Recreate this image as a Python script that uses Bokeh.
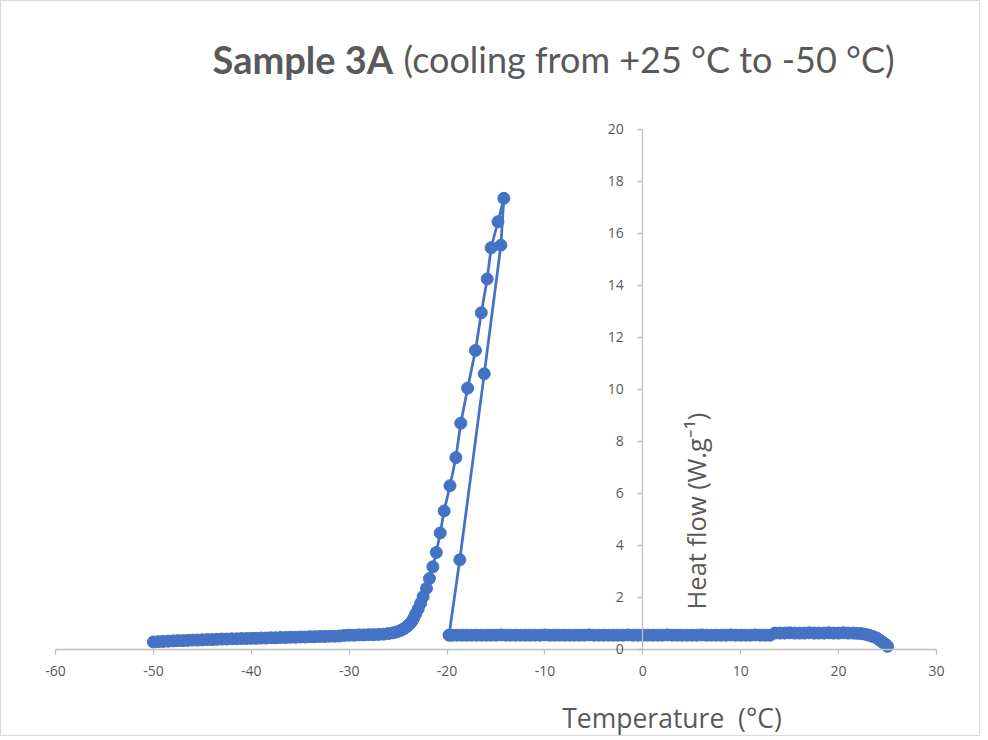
import math
from bokeh.plotting import figure
from bokeh.models import Label, FixedTicker, ColumnDataSource, PrintfTickFormatter
from bokeh.embed import file_html
from bokeh.resources import INLINE

# ---- data, in recording order: cooling 25 -> -50 °C ----
t_start = [25.0, 24.8, 24.5, 24.2, 23.9, 23.5, 23.1, 22.7, 22.3, 21.9,
           21.5, 21.0, 20.5, 20.0, 19.5, 19.0, 18.5, 18.0, 17.5, 17.0,
           16.5, 16.0, 15.5, 15.0, 14.5, 14.0, 13.5]
q_start = [0.12, 0.20, 0.28, 0.36, 0.44, 0.50, 0.55, 0.59, 0.61, 0.62,
           0.63, 0.63, 0.64, 0.63, 0.63, 0.64, 0.63, 0.63, 0.63, 0.64,
           0.63, 0.63, 0.63, 0.64, 0.63, 0.63, 0.63]

t_base = [13.0, 12.5, 12.0, 11.5, 11.0, 10.5, 10.0, 9.5, 9.0, 8.5,
          8.0, 7.5, 7.0, 6.5, 6.0, 5.5, 5.0, 4.5, 4.0, 3.5,
          3.0, 2.5, 2.0, 1.5, 1.0, 0.5, 0.0, -0.5, -1.0, -1.5,
          -2.0, -2.5, -3.0, -3.5, -4.0, -4.5, -5.0, -5.5, -6.0, -6.5,
          -7.0, -7.5, -8.0, -8.5, -9.0, -9.5, -10.0, -10.5, -11.0, -11.5,
          -12.0, -12.5, -13.0, -13.5, -14.0, -14.5, -15.0, -15.5, -16.0, -16.5,
          -17.0, -17.5, -18.0, -18.5, -19.0, -19.5, -19.8]
q_base = [0.55, 0.55, 0.55, 0.56, 0.55, 0.55, 0.55, 0.55, 0.56, 0.55,
          0.55, 0.55, 0.55, 0.55, 0.56, 0.55, 0.55, 0.55, 0.55, 0.55,
          0.55, 0.56, 0.55, 0.55, 0.55, 0.55, 0.55, 0.55, 0.55, 0.56,
          0.55, 0.55, 0.55, 0.55, 0.55, 0.55, 0.55, 0.56, 0.55, 0.55,
          0.55, 0.55, 0.55, 0.55, 0.55, 0.55, 0.56, 0.55, 0.55, 0.55,
          0.55, 0.55, 0.55, 0.55, 0.55, 0.56, 0.55, 0.55, 0.55, 0.55,
          0.55, 0.55, 0.55, 0.55, 0.55, 0.55, 0.55]

t_peak = [-18.7, -16.2, -14.5, -14.2, -14.8, -15.5, -15.9, -16.5, -17.1, -17.9,
          -18.6, -19.1, -19.7, -20.3, -20.7, -21.1, -21.45, -21.8, -22.1, -22.45,
          -22.7, -22.95, -23.2, -23.4, -23.6, -23.85, -24.1, -24.4, -24.75, -25.1,
          -25.5, -26.0, -26.5, -27.0]
q_peak = [3.45, 10.6, 15.55, 17.35, 16.45, 15.45, 14.25, 12.95, 11.5, 10.05,
          8.7, 7.38, 6.3, 5.33, 4.48, 3.73, 3.18, 2.73, 2.35, 2.03,
          1.78, 1.56, 1.37, 1.21, 1.08, 0.97, 0.88, 0.80, 0.73, 0.68,
          0.64, 0.61, 0.59, 0.58]

t_tail = [-27.5, -28.0, -28.5, -29.0, -29.5, -30.0, -30.5, -31.0, -31.5, -32.0,
          -32.5, -33.0, -33.5, -34.0, -34.5, -35.0, -35.5, -36.0, -36.5, -37.0,
          -37.5, -38.0, -38.5, -39.0, -39.5, -40.0, -40.5, -41.0, -41.5, -42.0,
          -42.5, -43.0, -43.5, -44.0, -44.5, -45.0, -45.5, -46.0, -46.5, -47.0,
          -47.5, -48.0, -48.5, -49.0, -49.5, -50.0]
q_tail = [0.57, 0.57, 0.56, 0.56, 0.55, 0.55, 0.54, 0.52, 0.51, 0.51,
          0.50, 0.50, 0.49, 0.49, 0.48, 0.48, 0.47, 0.47, 0.46, 0.46,
          0.45, 0.45, 0.44, 0.44, 0.43, 0.43, 0.42, 0.42, 0.41, 0.41,
          0.40, 0.40, 0.39, 0.38, 0.38, 0.37, 0.36, 0.36, 0.35, 0.34,
          0.34, 0.33, 0.32, 0.31, 0.30, 0.29]

x_ticks = [-60, -50, -40, -30, -20, -10, 0, 10, 20, 30]
y_ticks = [0, 2, 4, 6, 8, 10, 12, 14, 16, 18, 20]

title_bold = "Sample 3A"
title_rest = "(cooling from +25 °C to -50 °C)"
x_title = "Temperature\u00a0 (°C)"
y_title = "Heat flow (W.g\u207b\u00b9)"

temperature = t_start + t_base + t_peak + t_tail
heat_flow = q_start + q_base + q_peak + q_tail
src = ColumnDataSource(data=dict(t=temperature, q=heat_flow))

BLUE = "#4472C4"
GREY_TXT = "#595959"
AXIS = "#BFBFBF"

# The plotting frame covers the whole canvas; axes sit at fixed data positions
# (x=0 for the value axis, y=0 for the temperature axis), like the Excel chart.
p = figure(width=980, height=736, x_range=(-65.52, 34.60), y_range=(-3.385, 24.92),
           output_backend="svg", toolbar_location=None,
           min_border_left=0, min_border_right=0,
           min_border_top=0, min_border_bottom=0)
p.styles = {"border": "1px solid #D9D9D9"}
p.xgrid.visible = False
p.ygrid.visible = False
p.outline_line_color = None
p.background_fill_color = "white"
p.border_fill_color = "white"

p.xaxis.ticker = FixedTicker(ticks=x_ticks)
p.yaxis.ticker = FixedTicker(ticks=y_ticks)
p.xaxis.formatter = PrintfTickFormatter(format="%d")
p.yaxis.formatter = PrintfTickFormatter(format="%d")
p.xaxis.fixed_location = 0
p.yaxis.fixed_location = 0
p.xaxis.bounds = (x_ticks[0], x_ticks[-1])
p.yaxis.bounds = (y_ticks[0], y_ticks[-1])
for ax in (p.xaxis[0], p.yaxis[0]):
    ax.axis_line_color = AXIS
    ax.axis_line_width = 1.3
    ax.major_tick_line_color = AXIS
    ax.major_tick_line_width = 1.3
    ax.major_tick_out = 5
    ax.major_tick_in = 0
    ax.minor_tick_line_color = None
    ax.major_label_text_color = GREY_TXT
    ax.major_label_text_font = "Open Sans"
    ax.major_label_text_font_size = "14px"
p.xaxis.major_label_standoff = 12
p.yaxis.major_label_standoff = 14

p.line("t", "q", source=src, line_color=BLUE, line_width=2.75)
p.scatter("t", "q", source=src, size=12, fill_color=BLUE, line_color=BLUE)

p.add_layout(Label(x=-43.96, y=22.70, text=title_bold, text_font="Lato",
                   text_font_style="bold", text_font_size="38px",
                   text_color=GREY_TXT, text_align="left", text_baseline="alphabetic"))
p.add_layout(Label(x=-24.44, y=22.70, text=title_rest, text_font="Lato",
                   text_font_size="36px", text_color=GREY_TXT,
                   text_align="left", text_baseline="alphabetic"))
p.add_layout(Label(x=2.98, y=-2.62, text=x_title, text_font="Open Sans",
                   text_font_size="26.5px", text_color=GREY_TXT,
                   text_align="center", text_baseline="alphabetic"))
p.add_layout(Label(x=5.39, y=1.54, text=y_title, text_font="Open Sans",
                   text_font_size="25.5px", text_color=GREY_TXT, angle=math.pi / 2,
                   text_align="left", text_baseline="alphabetic"))

open("out.html", "w").write(file_html(p, INLINE))
